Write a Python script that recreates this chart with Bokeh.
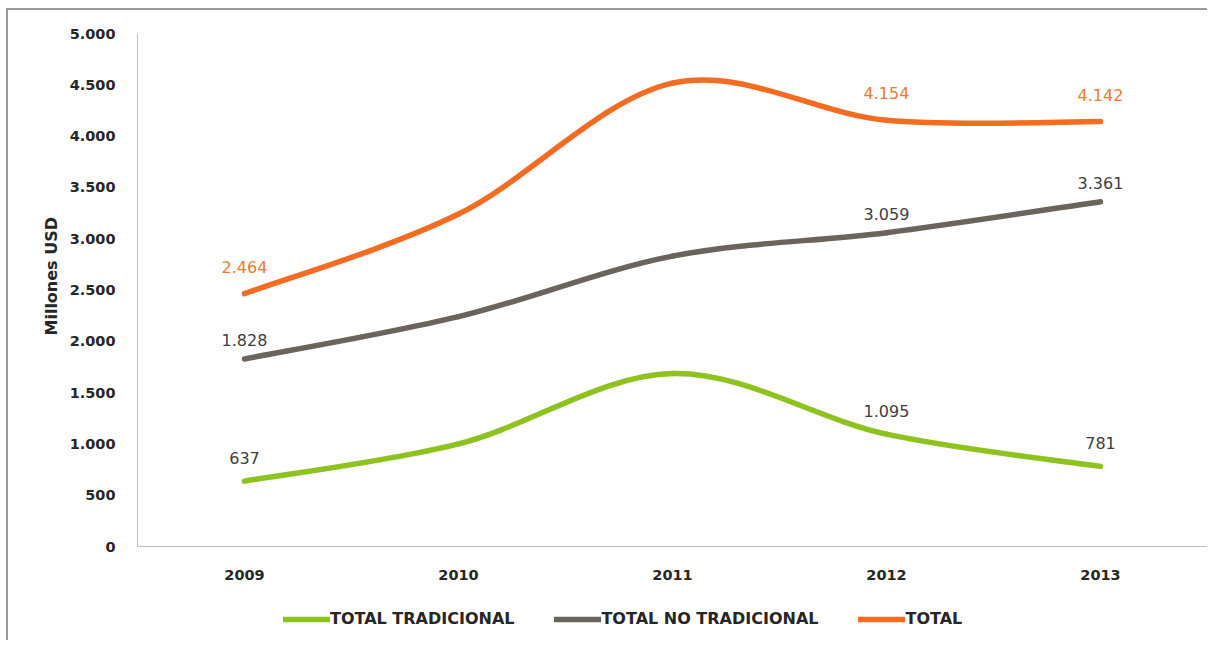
from bokeh.plotting import figure
from bokeh.models import ColumnDataSource, FixedTicker, LabelSet, Legend, LegendItem, Title
from bokeh.core.properties import value
from bokeh.embed import file_html
from bokeh.resources import INLINE

years = ["2009", "2010", "2011", "2012", "2013"]
tradicional = [637, 1000, 1686, 1095, 781]
no_tradicional = [1828, 2240, 2830, 3059, 3361]
total = [2464, 3240, 4516, 4154, 4142]
labeled_idx = [0, 3, 4]
y_ticks = [0, 500, 1000, 1500, 2000, 2500, 3000, 3500, 4000, 4500, 5000]

GREEN = "#8DC21F"
GRAY = "#6B645C"
ORANGE = "#F36C21"
FONT = "DejaVu Sans"

def fmt(v):
    return f"{v:,}".replace(",", ".")

p = figure(frame_width=1070, frame_height=607, output_backend="svg", toolbar_location=None,
           x_range=(-0.5, 4.5), y_range=(-916, 5000),
           min_border_left=129, min_border_right=0, min_border_top=23, min_border_bottom=0)
p.margin = (8, 0, 0, 6)
p.styles = {"border-left": "2px solid #9a9a9a", "border-top": "2px solid #9a9a9a"}
p.outline_line_color = None
p.grid.grid_line_color = None
p.background_fill_color = "white"

xs = list(range(len(years)))

def smooth(vals):
    n = len(vals)
    P = [(xs[i], vals[i]) for i in range(n)]
    d = dict(x0=[], y0=[], x1=[], y1=[], cx0=[], cy0=[], cx1=[], cy1=[])
    for i in range(n - 1):
        p0 = P[i - 1] if i > 0 else P[i]
        p1 = P[i]
        p2 = P[i + 1]
        p3 = P[i + 2] if i + 2 < n else P[i + 1]
        d["x0"].append(p1[0]); d["y0"].append(p1[1])
        d["x1"].append(p2[0]); d["y1"].append(p2[1])
        d["cx0"].append(p1[0] + (p2[0] - p0[0]) / 6); d["cy0"].append(p1[1] + (p2[1] - p0[1]) / 6)
        d["cx1"].append(p2[0] - (p3[0] - p1[0]) / 6); d["cy1"].append(p2[1] - (p3[1] - p1[1]) / 6)
    return ColumnDataSource(d)

renderers = []
for vals, col in [(tradicional, GREEN), (no_tradicional, GRAY), (total, ORANGE)]:
    r = p.bezier(x0="x0", y0="y0", x1="x1", y1="y1", cx0="cx0", cy0="cy0", cx1="cx1", cy1="cy1",
                 source=smooth(vals), line_color=col, line_width=5.5, line_cap="round")
    renderers.append(r)

for vals, col, off in [(tradicional, "#404040", 23), (no_tradicional, "#404040", 19), (total, "#EE7A2E", 27)]:
    src = ColumnDataSource(dict(x=[xs[i] for i in labeled_idx], y=[vals[i] for i in labeled_idx],
                                t=[fmt(vals[i]) for i in labeled_idx]))
    p.add_layout(LabelSet(x="x", y="y", text="t", source=src, y_offset=off,
                          text_align="center", text_baseline="middle",
                          text_font=value(FONT), text_font_size=value("16px"),
                          text_color=col))

# axes
p.yaxis.ticker = FixedTicker(ticks=y_ticks)
p.yaxis.major_label_overrides = {t: fmt(t) for t in y_ticks}
p.yaxis.bounds = (0, 5000)
p.xaxis.ticker = FixedTicker(ticks=xs)
p.xaxis.major_label_overrides = {i: y for i, y in enumerate(years)}
p.xaxis.fixed_location = 0
for ax in (p.xaxis, p.yaxis):
    ax.axis_line_color = "#BFBFBF"
    ax.axis_line_width = 1
    ax.major_tick_line_color = None
    ax.minor_tick_line_color = None
    ax.major_tick_out = 0
    ax.major_tick_in = 0
    ax.major_label_text_font = FONT
    ax.major_label_text_font_style = "bold"
    ax.major_label_text_font_size = "14.5px"
    ax.major_label_text_color = "#262626"
p.yaxis.major_label_standoff = 22
p.xaxis.major_label_standoff = 23

ytitle = Title(text="Millones USD", align="left", offset=305, standoff=12,
               text_font=FONT, text_font_style="bold", text_font_size="16px",
               text_color="#262626")
p.add_layout(ytitle, "left")

legend = Legend(items=[LegendItem(label="TOTAL TRADICIONAL", renderers=[renderers[0]]),
                       LegendItem(label="TOTAL NO TRADICIONAL", renderers=[renderers[1]]),
                       LegendItem(label="TOTAL", renderers=[renderers[2]])],
                orientation="horizontal", location=(146, 12),
                border_line_alpha=0, background_fill_alpha=0,
                glyph_width=47, glyph_height=14, label_standoff=0, spacing=40,
                label_text_font=FONT, label_text_font_style="bold",
                label_text_font_size="16px", label_text_color="#262626",
                margin=0, padding=0)
p.add_layout(legend, "center")

open("out.html", "w").write(file_html(p, INLINE))
